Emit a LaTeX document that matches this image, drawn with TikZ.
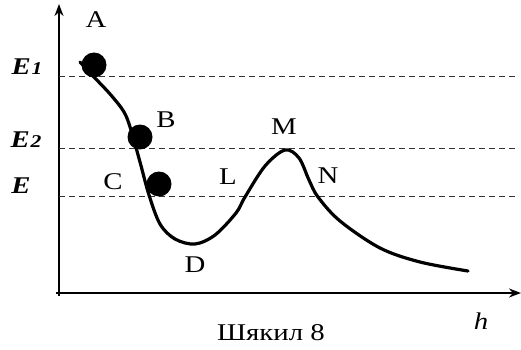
\documentclass[tikz,border=0pt]{standalone}
\usepackage{fontspec}
\setmainfont{Liberation Serif}
\usetikzlibrary{arrows.meta}
\newcommand{\widetxt}[1]{\scalebox{1.2}[1]{#1}}
\begin{document}
\begin{tikzpicture}[x=1pt,y=-1pt,
  axis/.style={line width=1.8pt,-{Stealth[length=12pt,width=9pt]}},
  level/.style={line width=0.8pt,dash pattern=on 6pt off 4pt,black!80},
  curve/.style={line width=3.2pt,line cap=round,line join=round},
  ball/.style={circle,fill=black,minimum size=25pt,inner sep=0pt},
  lbl/.style={font=\fontsize{24}{27}\selectfont,inner sep=0pt,anchor=base},
  elbl/.style={font=\fontsize{24}{27}\selectfont\bfseries\itshape,inner sep=0pt,anchor=base}]
\useasboundingbox (0,0) rectangle (521,350);
\coordinate (O) at (59,293);
\coordinate (ytop) at (59,4);
\coordinate (xend) at (521,293);
\draw[axis] (59,296) -- (ytop);
\draw[axis] (56,293) -- (xend);
\coordinate (e1a) at (59,76); \coordinate (e1b) at (515,76);
\coordinate (e2a) at (59,148); \coordinate (e2b) at (515,148);
\coordinate (ea) at (59,196); \coordinate (eb) at (515,196);
\draw[level] (e1a) -- (e1b);
\draw[level] (e2a) -- (e2b);
\draw[level] (ea) -- (eb);
\draw[curve] plot[smooth,tension=0.55] coordinates {(80,62) (93,76) (110,94) (124,112) (131,130) (140,162) (149,195) (160,224) (175,239) (195,244) (215,235) (236,213) (245,197) (265,166) (285,150) (299,158) (309,180) (318,197) (340,221) (380,248) (420,262) (468,271)};
\node[ball] (bA) at (94,65) {};
\node[ball] (bB) at (140,137) {};
\node[ball] (bC) at (159,184) {};
\node[lbl] (A) at (96,28) {\widetxt{A}};
\node[lbl] (B) at (166,127) {\widetxt{B}};
\node[lbl] (C) at (113,189) {\widetxt{C}};
\node[lbl] (D) at (195,272) {\widetxt{D}};
\node[lbl] (L) at (228,184) {\widetxt{L}};
\node[lbl] (M) at (284,134) {\widetxt{M}};
\node[lbl] (N) at (328,183) {\widetxt{N}};
\node[elbl] (E1) at (27,75) {\widetxt{E\kern0.5pt{\fontsize{18}{20}\selectfont 1}}};
\node[elbl] (E2) at (26,147) {\widetxt{E\kern0.5pt{\fontsize{18}{20}\selectfont 2}}};
\node[elbl] (E) at (21,193) {\widetxt{E}};
\node[lbl,font=\fontsize{24}{27}\selectfont\itshape] (h) at (481,329) {\widetxt{h}};
\node[lbl] (cap) at (271,340) {\widetxt{Шякил 8}};
\end{tikzpicture}
\end{document}
